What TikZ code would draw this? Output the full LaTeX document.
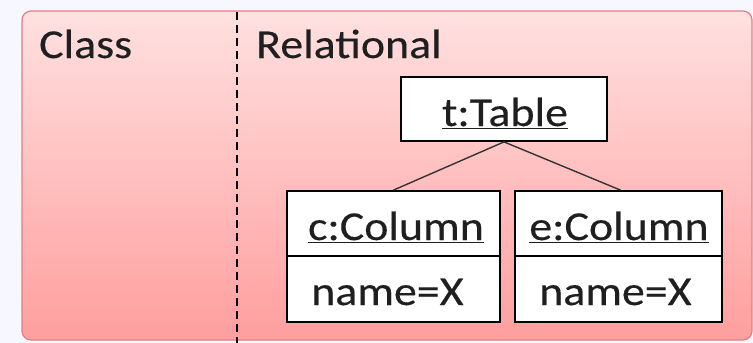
\documentclass[tikz,border=0pt]{standalone}
\usepackage{fontspec}
\setmainfont{Carlito}[FakeStretch=1.12,FakeBold=0.3]
\begin{document}
\begin{tikzpicture}[x=1pt,y=-1pt,
  box/.style={draw=black,line width=1.8pt,fill=white,inner sep=0pt},
  lbl/.style={font=\fontsize{41}{43}\selectfont,text=black!88,inner sep=0pt,anchor=base west},
  link/.style={draw=black!80,line width=1.4pt}]
\useasboundingbox (0,0) rectangle (753,343);
\fill[blue!3!white] (0,0) rectangle (753,343);
\shade[top color=red!12!white,bottom color=red!38!white,rounded corners=9pt]
  (22,11) rectangle (752,340);
\draw[red!45!black!45!red!50,line width=1.2pt,rounded corners=9pt] (22,11) rectangle (752,340);
\draw[line width=1.3pt,dash pattern=on 8pt off 5pt] (237,12) coordinate (d1) -- (237,343) coordinate (d2);
\node[lbl] (cls) at (39,58) {Class};
\node[lbl] (rel) at (256,58) {Relational};
% t:Table
\node[box,minimum width=206pt,minimum height=64pt] (t) at (504,109) {};
\node[lbl,anchor=base] (tl) at (505,126) {\underline{t:Table}};
% c:Column
\node[box,minimum width=213pt,minimum height=131pt] (c) at (393.5,256.5) {};
\draw[line width=1.8pt] (287,256) -- (500,256);
\node[lbl,anchor=base] (cl) at (396,240) {\underline{c:Column}};
\node[lbl] (cn) at (311,305) {name=X};
% e:Column
\node[box,minimum width=207pt,minimum height=131pt] (e) at (618.5,256.5) {};
\draw[line width=1.8pt] (515,256) -- (722,256);
\node[lbl,anchor=base] (el) at (619,240) {\underline{e:Column}};
\node[lbl] (en) at (539,305) {name=X};
\draw[link] (t.south) -- (c.north);
\draw[link] (t.south) -- ([xshift=2pt]e.north);
\end{tikzpicture}
\end{document}
